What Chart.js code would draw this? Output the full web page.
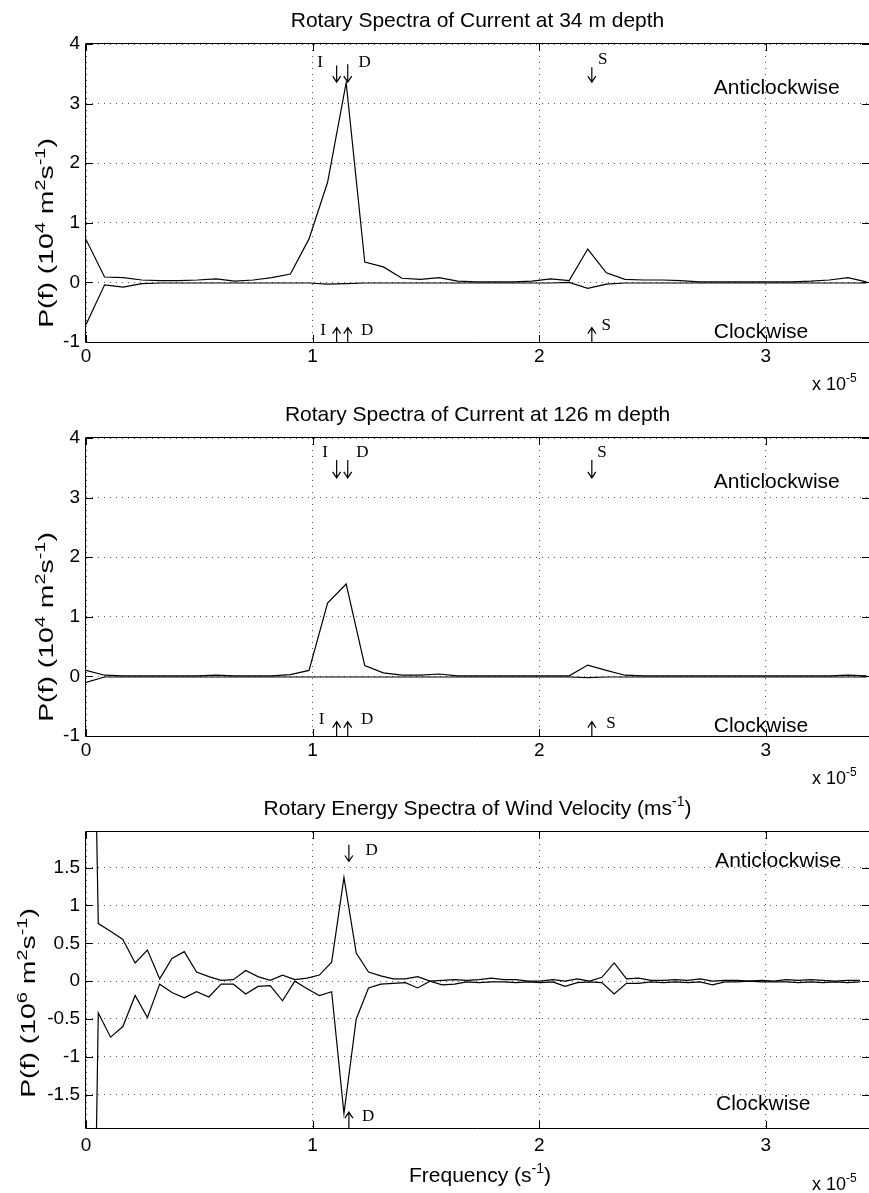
<!DOCTYPE html>
<html>
<head>
<meta charset="utf-8">
<script src="https://cdn.jsdelivr.net/npm/chart.js@4/dist/chart.umd.min.js"></script>
<style>
html, body { margin: 0; padding: 0; background: #fff; }
#wrap { position: relative; width: 869px; height: 1193px; }
canvas { position: absolute; left: 0; }
</style>
</head>
<body>
<div id="wrap">
  <canvas id="c1" width="869" height="400" style="top:0px"></canvas>
  <canvas id="c2" width="869" height="396" style="top:400px"></canvas>
  <canvas id="c3" width="869" height="397" style="top:796px"></canvas>
</div>
<script>
// frequency step of the spectra, in units of 1e-5 s^-1
const dfCurrent = 0.082;
const dfWind = 0.0542;

// 34 m current, 10^4 m^2 s^-1
const acw34 = [0.72, 0.09, 0.08, 0.04, 0.03, 0.03, 0.04, 0.06, 0.02, 0.04, 0.08, 0.14, 0.73, 1.68, 3.35,
  0.34, 0.26, 0.07, 0.05, 0.08, 0.02, 0.01, 0.01, 0.01, 0.02, 0.06, 0.03, 0.56, 0.16, 0.05, 0.04,
  0.04, 0.03, 0.01, 0.01, 0.01, 0.01, 0.01, 0.01, 0.02, 0.04, 0.08, 0.01];
const cw34 = [-0.71, -0.04, -0.08, -0.02, -0.01, -0.01, -0.01, -0.01, -0.01, -0.01, -0.01, -0.01, -0.01, -0.03, -0.02,
  -0.01, -0.01, -0.01, -0.01, -0.01, -0.01, -0.01, -0.01, -0.01, -0.01, -0.01, 0.00, -0.10, -0.03, -0.01, -0.01,
  -0.01, -0.01, -0.01, -0.01, -0.01, -0.01, -0.01, -0.01, -0.01, -0.01, -0.01, -0.01];

// 126 m current
const acw126 = [0.10, 0.02, 0.01, 0.01, 0.01, 0.01, 0.01, 0.02, 0.01, 0.01, 0.01, 0.03, 0.10, 1.23, 1.55,
  0.18, 0.06, 0.02, 0.02, 0.04, 0.01, 0.01, 0.01, 0.01, 0.01, 0.01, 0.01, 0.19, 0.10, 0.02, 0.01,
  0.01, 0.01, 0.01, 0.01, 0.01, 0.01, 0.01, 0.01, 0.01, 0.01, 0.02, 0.01];
const cw126 = [-0.10, -0.01, -0.01, -0.01, -0.01, -0.01, -0.01, -0.01, -0.01, -0.01, -0.01, -0.01, -0.01, -0.01, -0.01,
  -0.01, -0.01, -0.01, -0.01, -0.01, -0.01, -0.01, -0.01, -0.01, -0.01, -0.01, -0.01, -0.02, -0.01, -0.01, -0.01,
  -0.01, -0.01, -0.01, -0.01, -0.01, -0.01, -0.01, -0.01, -0.01, -0.01, -0.01, -0.01];

// wind, 10^6 m^2 s^-1
const acwWind = [10, 0.76, 0.66, 0.55, 0.24, 0.41, 0.03, 0.30, 0.39, 0.12, 0.06, 0.01, 0.02, 0.14, 0.06, 0.01,
  0.08, 0.02, 0.04, 0.08, 0.25, 1.37, 0.37, 0.12, 0.07, 0.03, 0.03, 0.06, 0.00, 0.01, 0.02, 0.01,
  0.02, 0.04, 0.02, 0.02, 0.00, 0.00, 0.02, 0.00, 0.03, 0.00, 0.05, 0.24, 0.03, 0.04, 0.01, 0.01,
  0.02, 0.01, 0.03, 0.00, 0.01, 0.01, 0.00, 0.01, 0.00, 0.02, 0.01, 0.02, 0.01, 0.00, 0.01, 0.01];
const cwWind = [-11, -0.42, -0.74, -0.60, -0.19, -0.48, -0.04, -0.15, -0.22, -0.14, -0.21, -0.04, -0.04, -0.17, -0.07, -0.06,
  -0.26, 0.00, -0.10, -0.19, -0.14, -1.75, -0.50, -0.09, -0.04, -0.03, -0.02, -0.09, 0.00, -0.05, -0.04, -0.01,
  -0.02, -0.01, -0.01, -0.02, -0.01, -0.02, -0.01, -0.07, -0.02, -0.01, -0.02, -0.17, -0.03, -0.03, -0.01, -0.02,
  -0.01, -0.02, -0.01, -0.05, -0.01, -0.01, 0.00, -0.01, -0.01, -0.01, -0.02, -0.01, -0.02, -0.01, -0.02, -0.01];

const xTicks = [0, 1, 2, 3];
const yTicksCurrent = [-1, 0, 1, 2, 3, 4];
const yTicksWind = [-1.5, -1, -0.5, 0, 0.5, 1, 1.5];

const SANS = '"Liberation Sans", Arial, Helvetica, sans-serif';
const SERIF = '"Liberation Serif", "Times New Roman", serif';

// draw text made of [text, isSuperscript] pieces
function richWidth(ctx, parts, size) {
  let w = 0;
  for (const [t, sup] of parts) {
    ctx.font = (sup ? Math.round(size * 0.68) : size) + 'px ' + SANS;
    w += ctx.measureText(t).width;
  }
  return w;
}
function drawRich(ctx, parts, x, y, size, align) {
  let cx = align === 'center' ? x - richWidth(ctx, parts, size) / 2 : x;
  ctx.textAlign = 'left';
  ctx.textBaseline = 'alphabetic';
  for (const [t, sup] of parts) {
    ctx.font = (sup ? Math.round(size * 0.68) : size) + 'px ' + SANS;
    ctx.fillText(t, cx, sup ? y - size * 0.42 : y);
    cx += ctx.measureText(t).width;
  }
}

function decor(cfg) {
  return {
    id: 'decor',
    afterDraw(chart) {
      const ctx = chart.ctx;
      const a = chart.chartArea;
      const xs = chart.scales.x, ys = chart.scales.y;
      ctx.save();
      ctx.strokeStyle = '#000';
      ctx.fillStyle = '#000';
      ctx.lineWidth = 1;
      // box
      ctx.beginPath();
      ctx.moveTo(a.left - 0.5, a.bottom + 0.5);
      ctx.lineTo(a.left - 0.5, a.top - 0.5);
      ctx.lineTo(a.right + 1, a.top - 0.5);
      ctx.moveTo(a.left - 0.5, a.bottom + 0.5);
      ctx.lineTo(a.right + 1, a.bottom + 0.5);
      ctx.stroke();
      // inward ticks
      ctx.beginPath();
      for (const t of xTicks) {
        const px = Math.round(xs.getPixelForValue(t)) + 0.5;
        ctx.moveTo(px, a.bottom); ctx.lineTo(px, a.bottom - 7);
        ctx.moveTo(px, a.top); ctx.lineTo(px, a.top + 7);
      }
      for (const t of cfg.yTicks) {
        const py = Math.round(ys.getPixelForValue(t)) + 0.5;
        ctx.moveTo(a.left, py); ctx.lineTo(a.left + 7, py);
        ctx.moveTo(a.right, py); ctx.lineTo(a.right - 7, py);
      }
      ctx.stroke();
      // arrows
      ctx.lineWidth = 1.2;
      for (const ar of cfg.arrows) {
        const px = xs.getPixelForValue(ar.x);
        const y1 = ys.getPixelForValue(ar.from), y2 = ys.getPixelForValue(ar.to);
        const dir = y2 > y1 ? 1 : -1;
        ctx.beginPath();
        ctx.moveTo(px, y1); ctx.lineTo(px, y2);
        ctx.moveTo(px - 4, y2 - dir * 6); ctx.lineTo(px, y2); ctx.lineTo(px + 4, y2 - dir * 6);
        ctx.stroke();
      }
      // serif letters
      ctx.font = '17px ' + SERIF;
      ctx.textAlign = 'center';
      ctx.textBaseline = 'middle';
      for (const [t, x, y] of cfg.letters) {
        ctx.fillText(t, xs.getPixelForValue(x), ys.getPixelForValue(y));
      }
      // direction labels
      ctx.font = '21px ' + SANS;
      ctx.textAlign = 'left';
      for (const [t, x, y] of cfg.words) {
        ctx.fillText(t, xs.getPixelForValue(x), ys.getPixelForValue(y));
      }
      // title
      drawRich(ctx, cfg.title, (a.left + a.right) / 2, a.top - 17, 21, 'center');
      // y label, stretched along its length as in the original
      ctx.save();
      ctx.translate(cfg.yLabelX, (a.top + a.bottom) / 2 + cfg.yLabelShift);
      ctx.rotate(-Math.PI / 2);
      ctx.scale(1.42, 1);
      drawRich(ctx, cfg.yLabel, 0, 0, 20, 'center');
      ctx.restore();
      // exponent of x axis
      drawRich(ctx, [['x 10', false], ['-5', true]], 812, a.bottom + cfg.expDy, 18, 'left');
      if (cfg.xLabel) {
        drawRich(ctx, cfg.xLabel, 480, a.bottom + 54, 21, 'center');
      }
      ctx.restore();
    }
  };
}

function makePanel(id, cfg) {
  const freq = cfg.acw.map((_, i) => i * cfg.df);
  const line = (vals) => ({
    data: vals.map((v, i) => ({ x: freq[i], y: v })),
    borderColor: '#000',
    borderWidth: 1.2,
    pointRadius: 0,
    tension: 0,
    fill: false
  });
  return new Chart(document.getElementById(id), {
    type: 'line',
    data: { datasets: [line(cfg.acw), line(cfg.cw)] },
    options: {
      responsive: false,
      animation: false,
      devicePixelRatio: 1,
      layout: { padding: { top: cfg.padTop, right: 0, bottom: 0, left: 0 } },
      plugins: { legend: { display: false }, tooltip: { enabled: false } },
      scales: {
        x: {
          type: 'linear', min: 0, max: 3.455,
          afterBuildTicks: s => { s.ticks = xTicks.map(v => ({ value: v })); },
          afterFit: s => { s.height = cfg.xH; },
          ticks: { color: '#000', font: { family: SANS, size: 19 }, padding: cfg.xPad, maxRotation: 0, autoSkip: false },
          grid: { color: '#555', drawTicks: false, lineWidth: 1 },
          border: { display: false, dash: [1, 5] }
        },
        y: {
          type: 'linear', min: cfg.yMin, max: cfg.yMax,
          afterBuildTicks: s => { s.ticks = cfg.yTicks.map(v => ({ value: v })); },
          afterFit: s => { s.width = 86; },
          ticks: { color: '#000', font: { family: SANS, size: 19 }, padding: 6, callback: v => String(v) },
          grid: { color: '#555', drawTicks: false, lineWidth: 1 },
          border: { display: false, dash: [1, 5] }
        }
      }
    },
    plugins: [decor(cfg)]
  });
}

makePanel('c1', {
  acw: acw34, cw: cw34, df: dfCurrent, yMin: -1, yMax: 4, yTicks: yTicksCurrent,
  padTop: 44, xH: 58, xPad: 3, expDy: 48,
  title: [['Rotary Spectra of Current at 34 m depth', false]],
  yLabel: [['P(f) (10', false], ['4', true], [' m', false], ['2', true], ['s', false], ['-1', true], [')', false]],
  yLabelX: 53, yLabelShift: 40,
  arrows: [
    { x: 1.106, from: 3.64, to: 3.36 }, { x: 1.155, from: 3.66, to: 3.36 }, { x: 2.232, from: 3.61, to: 3.36 },
    { x: 1.106, from: -1, to: -0.76 }, { x: 1.155, from: -1, to: -0.76 }, { x: 2.232, from: -1, to: -0.76 }
  ],
  letters: [['I', 1.033, 3.69], ['D', 1.23, 3.69], ['S', 2.28, 3.74], ['I', 1.046, -0.81], ['D', 1.24, -0.81], ['S', 2.295, -0.73]],
  words: [['Anticlockwise', 2.77, 3.25], ['Clockwise', 2.77, -0.84]]
});

makePanel('c2', {
  acw: acw126, cw: cw126, df: dfCurrent, yMin: -1, yMax: 4, yTicks: yTicksCurrent,
  padTop: 38, xH: 60, xPad: 3, expDy: 48,
  title: [['Rotary Spectra of Current at 126 m depth', false]],
  yLabel: [['P(f) (10', false], ['4', true], [' m', false], ['2', true], ['s', false], ['-1', true], [')', false]],
  yLabelX: 53, yLabelShift: 40,
  arrows: [
    { x: 1.106, from: 3.63, to: 3.33 }, { x: 1.155, from: 3.63, to: 3.33 }, { x: 2.232, from: 3.63, to: 3.33 },
    { x: 1.106, from: -1, to: -0.76 }, { x: 1.155, from: -1, to: -0.76 }, { x: 2.232, from: -1, to: -0.76 }
  ],
  letters: [['I', 1.055, 3.75], ['D', 1.22, 3.75], ['S', 2.277, 3.75], ['I', 1.04, -0.73], ['D', 1.24, -0.73], ['S', 2.317, -0.79]],
  words: [['Anticlockwise', 2.77, 3.26], ['Clockwise', 2.77, -0.83]]
});

makePanel('c3', {
  acw: acwWind, cw: cwWind, df: dfWind, yMin: -1.94, yMax: 1.97, yTicks: yTicksWind,
  padTop: 36, xH: 65, xPad: 6, expDy: 62,
  title: [['Rotary Energy Spectra of Wind Velocity (ms', false], ['-1', true], [')', false]],
  yLabel: [['P(f) (10', false], ['6', true], [' m', false], ['2', true], ['s', false], ['-1', true], [')', false]],
  yLabelX: 35, yLabelShift: 23,
  xLabel: [['Frequency (s', false], ['-1', true], [')', false]],
  arrows: [{ x: 1.16, from: 1.80, to: 1.58 }, { x: 1.16, from: -1.94, to: -1.73 }],
  letters: [['D', 1.26, 1.73], ['D', 1.245, -1.79]],
  words: [['Anticlockwise', 2.776, 1.59], ['Clockwise', 2.78, -1.62]]
});
</script>
</body>
</html>
